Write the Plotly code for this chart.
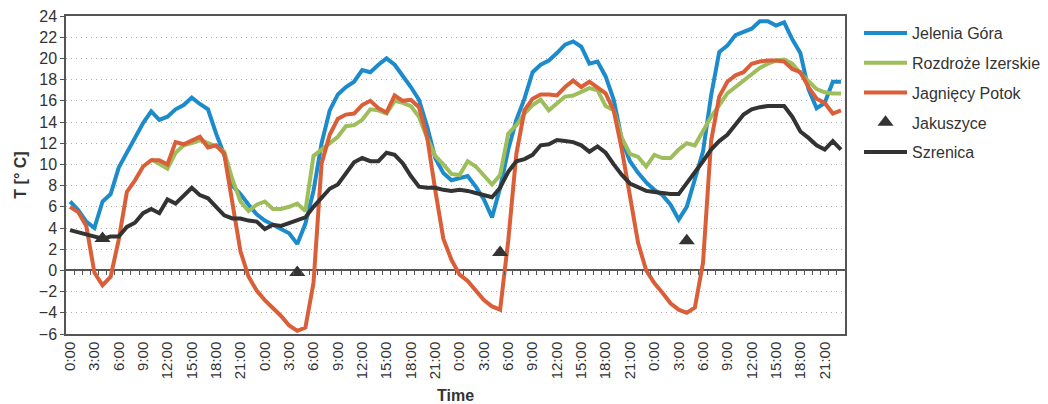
import plotly.graph_objects as go

# hourly time axis: 4 days x 24 h (category positions 0..95)
hour_labels = ["0:00", "1:00", "2:00", "3:00", "4:00", "5:00", "6:00", "7:00",
               "8:00", "9:00", "10:00", "11:00", "12:00", "13:00", "14:00", "15:00",
               "16:00", "17:00", "18:00", "19:00", "20:00", "21:00", "22:00", "23:00"]
time_labels = hour_labels * 4
tick_labels = ["0:00", "3:00", "6:00", "9:00", "12:00", "15:00", "18:00", "21:00"] * 4

jelenia_gora = [
    6.5, 5.7, 4.6, 4.0, 6.5, 7.2, 9.7, 11.1, 12.5, 13.9, 15.0, 14.2,
    14.5, 15.2, 15.6, 16.3, 15.7, 15.2, 12.9, 10.9, 8.0, 7.2, 6.2, 5.3,
    4.7, 4.3, 4.0, 3.5, 2.5, 4.4, 7.5, 12.0, 15.1, 16.6, 17.3, 17.8,
    18.9, 18.7, 19.4, 20.0, 19.4, 18.4, 17.3, 16.1, 13.6, 10.6, 9.2, 8.5,
    8.7, 8.9, 7.9, 6.7, 5.0, 7.8, 11.4, 14.2, 16.2, 18.7, 19.4, 19.8,
    20.5, 21.3, 21.6, 21.1, 19.5, 19.7, 18.3, 16.1, 12.3, 10.3, 9.2, 8.3,
    7.6, 7.1, 6.2, 4.8, 6.0, 8.6, 11.2, 16.5, 20.6, 21.2, 22.2, 22.5,
    22.8, 23.5, 23.5, 23.1, 23.4, 21.8, 20.5, 17.1, 15.3, 15.8, 17.8, 17.8,
]

rozdroze_izerskie = [
    None, None, None, None, None, None, None, None, None, None, 10.5, 10.1,
    9.6, 11.1, 11.8, 12.0, 12.3, 12.0, 11.7, 11.2, 8.6, 6.5, 5.6, 6.2,
    6.5, 5.8, 5.8, 6.0, 6.3, 5.6, 10.8, 11.4, 12.0, 12.6, 13.6, 13.7,
    14.2, 15.2, 15.1, 14.8, 16.0, 15.8, 15.5, 14.5, 12.5, 10.8, 10.0, 9.1,
    9.0, 10.3, 9.8, 8.9, 8.1, 9.0, 12.9, 13.7, 14.8, 15.6, 16.1, 15.1,
    15.8, 16.4, 16.5, 16.9, 17.2, 17.0, 15.5, 15.1, 12.5, 11.0, 10.7, 9.8,
    10.9, 10.6, 10.6, 11.4, 12.0, 11.8, 13.1, 14.5, 15.6, 16.7, 17.3, 17.9,
    18.6, 19.1, 19.5, 19.8, 19.9, 19.5, 18.6, 17.8, 17.1, 16.8, 16.7, 16.7,
]

jagniecy_potok = [
    6.0, 5.5, 4.2, -0.2, -1.4, -0.6, 2.9, 7.4, 8.5, 9.8, 10.4, 10.4,
    10.0, 12.1, 11.9, 12.3, 12.6, 11.6, 11.8, 11.0, 6.4, 1.8, -0.6, -1.9,
    -2.8, -3.5, -4.3, -5.2, -5.7, -5.4, -1.2, 10.1, 12.8, 14.3, 14.7, 14.8,
    15.6, 16.0, 15.3, 14.9, 16.5, 16.0, 16.1, 15.4, 12.6, 7.6, 3.0, 1.0,
    -0.4, -1.0, -1.9, -2.8, -3.4, -3.7, 2.8, 11.0, 15.1, 16.2, 16.6, 16.6,
    16.5, 17.3, 17.9, 17.3, 17.8, 17.3, 16.7, 15.1, 11.4, 7.0, 2.6, 0.0,
    -1.2, -2.1, -3.1, -3.7, -4.0, -3.5, 0.7, 12.2, 16.4, 17.8, 18.4, 18.7,
    19.5, 19.7, 19.8, 19.8, 19.7, 19.0, 18.7, 17.3, 16.2, 15.8, 14.8, 15.1,
]

jakuszyce_pos = [4, 28, 53, 76]
jakuszyce = [3.0, -0.2, 1.7, 2.8]

szrenica = [
    3.8, 3.6, 3.4, 3.2, 3.0, 3.2, 3.2, 4.1, 4.5, 5.4, 5.8, 5.4,
    6.7, 6.3, 7.1, 7.8, 7.1, 6.8, 6.0, 5.2, 4.9, 4.9, 4.7, 4.6,
    3.9, 4.3, 4.2, 4.5, 4.7, 5.0, 6.0, 6.8, 7.7, 8.1, 9.2, 10.2,
    10.6, 10.3, 10.3, 11.1, 10.9, 10.1, 8.9, 7.9, 7.8, 7.8, 7.6, 7.5,
    7.6, 7.5, 7.3, 7.1, 6.9, 7.8, 9.3, 10.3, 10.5, 10.9, 11.8, 11.9,
    12.3, 12.2, 12.1, 11.8, 11.2, 11.7, 11.1, 10.0, 9.0, 8.2, 7.8, 7.5,
    7.4, 7.3, 7.2, 7.2, 8.2, 9.2, 10.3, 11.4, 12.2, 12.8, 13.7, 14.7,
    15.2, 15.4, 15.5, 15.5, 15.5, 14.5, 13.1, 12.5, 11.8, 11.4, 12.2, 11.4,
]

x_idx = list(range(len(time_labels)))
tick_pos = [i for i, lab in enumerate(time_labels) if lab in ("0:00", "3:00", "6:00", "9:00", "12:00", "15:00", "18:00", "21:00")]
boundary_pos = [i + 0.5 for i in x_idx[:-1]]

BLUE = "#1C8BCB"
GREEN = "#9DBE5B"
ORANGE = "#DA5E38"
DARK = "#333333"
FONT = "Arial, Liberation Sans, sans-serif"

fig = go.Figure()
line_series = [
    ("Jelenia Góra", jelenia_gora, BLUE),
    ("Rozdroże Izerskie", rozdroze_izerskie, GREEN),
    ("Jagnięcy Potok", jagniecy_potok, ORANGE),
]
for k, (name, vals, col) in enumerate(line_series):
    fig.add_trace(go.Scatter(x=x_idx, y=vals, mode="lines", name=name,
                             line=dict(color=col, width=4), legendgroup=str(k),
                             connectgaps=False))
fig.add_trace(go.Scatter(x=jakuszyce_pos, y=jakuszyce, mode="markers", name="Jakuszyce",
                         marker=dict(symbol="triangle-up", size=14, color=DARK),
                         legendgroup="3"))
fig.add_trace(go.Scatter(x=x_idx, y=szrenica, mode="lines", name="Szrenica",
                         line=dict(color=DARK, width=4), legendgroup="4"))
# carrier for the category tick axis drawn along y = 0
fig.add_trace(go.Scatter(x=[None], y=[None], xaxis="x2", showlegend=False, hoverinfo="skip"))

# figure is a bit wider than the window so the legend text is not clipped;
# the page margin is removed and overflow hidden by the post script below
fig.update_layout(
    width=1056, height=404,
    margin=dict(l=66, r=211, t=16, b=70, autoexpand=False),
    paper_bgcolor="white", plot_bgcolor="white",
    font=dict(family=FONT, size=16, color="#333333"),
    showlegend=True,
    legend=dict(x=1.018, y=1.0, xanchor="left", yanchor="top",
                font=dict(size=16, color="#333333"), tracegroupgap=6,
                itemwidth=43, bgcolor="rgba(0,0,0,0)"),
    xaxis=dict(range=[-0.5, 95.5], tickmode="array", tickvals=tick_pos, ticktext=tick_labels,
               tickangle=-90, tickfont=dict(size=15, color="#333333"), ticks="",
               showgrid=False, zeroline=False, showline=True, mirror=True,
               linecolor="#555555", linewidth=1.5, automargin=False,
               title=dict(text="<b>Time</b>", font=dict(size=16), standoff=12)),
    xaxis2=dict(overlaying="x", anchor="free", position=0.2, range=[-0.5, 95.5],
                tickmode="array", tickvals=boundary_pos, ticks="outside", ticklen=4,
                tickwidth=1, tickcolor="#555555", showticklabels=False,
                showgrid=False, zeroline=False, showline=False),
    yaxis=dict(range=[-6, 24], dtick=2, tick0=0, tickfont=dict(size=16, color="#333333"),
               ticks="outside", ticklen=4, tickcolor="#555555", ticklabeloverflow="allow",
               showgrid=True, gridcolor="#AAAAAA", griddash="1px,4px", gridwidth=1,
               zeroline=True, zerolinecolor="#555555", zerolinewidth=1.5,
               showline=True, mirror=True, linecolor="#555555", linewidth=1.5,
               automargin=False,
               title=dict(text="<b>T [° C]</b>", font=dict(size=16), standoff=8)),
)

fig.write_html("out.html", config={"displayModeBar": False, "responsive": False},
               post_script="document.body.style.margin='0';document.body.style.overflow='hidden';")
